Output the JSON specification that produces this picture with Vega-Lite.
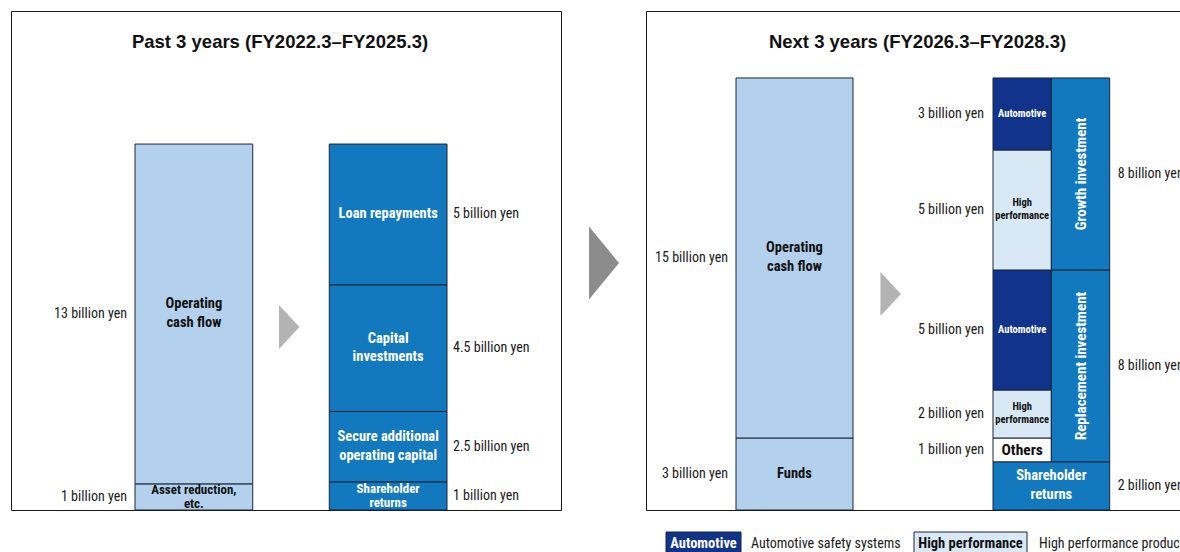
{
  "$schema": "https://vega.github.io/schema/vega-lite/v6.json",
  "padding": {"left": 10, "top": 10, "right": 0, "bottom": 0},
  "bounds": "flush",
  "spacing": 85,
  "datasets": {
    "pastSources": [
      {"side": "Sources", "item": "Asset reduction, etc.", "label": "Asset reduction,\netc.", "amount": 1, "valueLabel": "1 billion yen", "order": 1},
      {"side": "Sources", "item": "Operating cash flow", "label": "Operating\ncash flow", "amount": 13, "valueLabel": "13 billion yen", "order": 2}
    ],
    "pastUses": [
      {"side": "Uses", "item": "Shareholder returns", "label": "Shareholder\nreturns", "amount": 1, "valueLabel": "1 billion yen", "order": 1},
      {"side": "Uses", "item": "Secure additional operating capital", "label": "Secure additional\noperating capital", "amount": 2.5, "valueLabel": "2.5 billion yen", "order": 2},
      {"side": "Uses", "item": "Capital investments", "label": "Capital\ninvestments", "amount": 4.5, "valueLabel": "4.5 billion yen", "order": 3},
      {"side": "Uses", "item": "Loan repayments", "label": "Loan repayments", "amount": 5, "valueLabel": "5 billion yen", "order": 4}
    ],
    "nextSources": [
      {"side": "Sources", "item": "Funds", "label": "Funds", "amount": 3, "valueLabel": "3 billion yen", "order": 1},
      {"side": "Sources", "item": "Operating cash flow", "label": "Operating\ncash flow", "amount": 15, "valueLabel": "15 billion yen", "order": 2}
    ],
    "nextUses": [
      {"item": "Shareholder returns", "label": "Shareholder\nreturns", "amount": 2, "valueLabel": "2 billion yen", "cols": ["Business", "Type"], "order": 1},
      {"item": "Others", "label": "Others", "amount": 1, "valueLabel": "1 billion yen", "cols": ["Business"], "order": 2},
      {"item": "High performance", "label": "High\nperformance", "amount": 2, "valueLabel": "2 billion yen", "cols": ["Business"], "order": 3},
      {"item": "Automotive", "label": "Automotive", "amount": 5, "valueLabel": "5 billion yen", "cols": ["Business"], "order": 4},
      {"item": "High performance", "label": "High\nperformance", "amount": 5, "valueLabel": "5 billion yen", "cols": ["Business"], "order": 5},
      {"item": "Automotive", "label": "Automotive", "amount": 3, "valueLabel": "3 billion yen", "cols": ["Business"], "order": 6},
      {"item": "Replacement investment", "label": "Replacement investment", "amount": 8, "valueLabel": "8 billion yen", "cols": ["Type"], "order": 2},
      {"item": "Growth investment", "label": "Growth investment", "amount": 8, "valueLabel": "8 billion yen", "cols": ["Type"], "order": 3}
    ],
    "legendKeys": [
      {"key": "Automotive", "desc": "Automotive safety systems"},
      {"key": "High performance", "desc": "High performance products"}
    ]
  },
  "hconcat": [
    {
      "width": 550,
      "height": 499,
      "title": {"text": "Past 3 years (FY2022.3–FY2025.3)", "offset": -49, "baseline": "middle", "dx": -6},
      "layer": [
        {
          "data": {"name": "pastSources"},
          "layer": [
            {
              "mark": {"type": "bar", "fill": "#b3d1ec", "stroke": "#1b2638", "strokeWidth": 1},
              "encoding": {
                "x": {"field": "side", "type": "nominal", "scale": {"domain": ["Sources", "Uses"], "range": [124, 436], "paddingInner": 0.394, "paddingOuter": 0}, "axis": null},
                "y": {"field": "amount", "type": "quantitative", "stack": "zero", "scale": {"domain": [0, 19.09], "nice": false}, "axis": null},
                "order": {"field": "order"},
                "detail": {"field": "item"}
              }
            },
            {
              "mark": {"type": "text", "font": "Roboto Condensed, Liberation Sans Narrow, DejaVu Sans Condensed, sans-serif", "fontWeight": "bold", "fontSize": 14.5, "lineHeight": 19, "dy": -9.5, "fill": "#111111"},
              "encoding": {
                "x": {"field": "side", "type": "nominal"},
                "y": {"field": "amount", "type": "quantitative", "stack": "zero", "bandPosition": 0.5},
                "order": {"field": "order"},
                "detail": {"field": "item"},
                "text": {"condition": {"test": "datum.item === 'Operating cash flow'", "field": "label"}, "value": ""}
              }
            },
            {
              "mark": {"type": "text", "font": "Roboto Condensed, Liberation Sans Narrow, DejaVu Sans Condensed, sans-serif", "fontWeight": "bold", "fontSize": 13, "lineHeight": 14, "dy": -7, "fill": "#111111"},
              "encoding": {
                "x": {"field": "side", "type": "nominal"},
                "y": {"field": "amount", "type": "quantitative", "stack": "zero", "bandPosition": 0.5},
                "order": {"field": "order"},
                "detail": {"field": "item"},
                "text": {"condition": {"test": "datum.item !== 'Operating cash flow'", "field": "label"}, "value": ""}
              }
            },
            {
              "mark": {"type": "text", "font": "Roboto Condensed, Liberation Sans Narrow, DejaVu Sans Condensed, sans-serif", "fontSize": 14, "align": "right", "dx": -8, "fill": "#1a1a1a"},
              "encoding": {
                "x": {"field": "side", "type": "nominal", "bandPosition": 0},
                "y": {"field": "amount", "type": "quantitative", "stack": "zero", "bandPosition": 0.5},
                "order": {"field": "order"},
                "detail": {"field": "item"},
                "text": {"field": "valueLabel"}
              }
            },
            {
              "data": {"values": [{"arrow": "sources to uses"}]},
              "mark": {"type": "point", "shape": "M-0.466,-1L0.466,0L-0.466,1Z", "size": 1936, "filled": true, "color": "#b3b3b3", "opacity": 1, "strokeWidth": 0, "xOffset": 36.5},
              "encoding": {
                "x": {"datum": "Sources", "type": "nominal", "bandPosition": 1},
                "y": {"datum": 7, "type": "quantitative"}
              }
            },
            {
              "data": {"values": [{"arrow": "past to next"}]},
              "mark": {"type": "point", "shape": "M-0.411,-1L0.411,0L-0.411,1Z", "size": 5329, "filled": true, "color": "#8b8c8b", "opacity": 1, "strokeWidth": 0, "xOffset": 157},
              "encoding": {
                "x": {"datum": "Uses", "type": "nominal", "bandPosition": 1},
                "y": {"datum": 9.45, "type": "quantitative"}
              }
            }
          ]
        },
        {
          "data": {"name": "pastUses"},
          "layer": [
            {
              "mark": {"type": "bar", "fill": "#1379be", "stroke": "#1b2638", "strokeWidth": 1},
              "encoding": {
                "x": {"field": "side", "type": "nominal"},
                "y": {"field": "amount", "type": "quantitative", "stack": "zero", "scale": {"domain": [0, 17.726], "nice": false}, "axis": null},
                "order": {"field": "order"},
                "detail": {"field": "item"}
              }
            },
            {
              "mark": {"type": "text", "font": "Roboto Condensed, Liberation Sans Narrow, DejaVu Sans Condensed, sans-serif", "fontWeight": "bold", "fontSize": 14.5, "fill": "#ffffff"},
              "encoding": {
                "x": {"field": "side", "type": "nominal"},
                "y": {"field": "amount", "type": "quantitative", "stack": "zero", "bandPosition": 0.5},
                "order": {"field": "order"},
                "detail": {"field": "item"},
                "text": {"condition": {"test": "datum.item === 'Loan repayments'", "field": "label"}, "value": ""}
              }
            },
            {
              "mark": {"type": "text", "font": "Roboto Condensed, Liberation Sans Narrow, DejaVu Sans Condensed, sans-serif", "fontWeight": "bold", "fontSize": 14.5, "lineHeight": 18.5, "dy": -9.25, "fill": "#ffffff"},
              "encoding": {
                "x": {"field": "side", "type": "nominal"},
                "y": {"field": "amount", "type": "quantitative", "stack": "zero", "bandPosition": 0.5},
                "order": {"field": "order"},
                "detail": {"field": "item"},
                "text": {"condition": {"test": "datum.item === 'Capital investments' || datum.item === 'Secure additional operating capital'", "field": "label"}, "value": ""}
              }
            },
            {
              "mark": {"type": "text", "font": "Roboto Condensed, Liberation Sans Narrow, DejaVu Sans Condensed, sans-serif", "fontWeight": "bold", "fontSize": 13, "lineHeight": 14, "dy": -7, "fill": "#ffffff"},
              "encoding": {
                "x": {"field": "side", "type": "nominal"},
                "y": {"field": "amount", "type": "quantitative", "stack": "zero", "bandPosition": 0.5},
                "order": {"field": "order"},
                "detail": {"field": "item"},
                "text": {"condition": {"test": "datum.item === 'Shareholder returns'", "field": "label"}, "value": ""}
              }
            },
            {
              "mark": {"type": "text", "font": "Roboto Condensed, Liberation Sans Narrow, DejaVu Sans Condensed, sans-serif", "fontSize": 14, "align": "left", "dx": 6, "fill": "#1a1a1a"},
              "encoding": {
                "x": {"field": "side", "type": "nominal", "bandPosition": 1},
                "y": {"field": "amount", "type": "quantitative", "stack": "zero", "bandPosition": 0.5},
                "order": {"field": "order"},
                "detail": {"field": "item"},
                "text": {"field": "valueLabel"}
              }
            }
          ]
        }
      ],
      "resolve": {"scale": {"y": "independent"}}
    },
    {
      "spacing": 22,
      "bounds": "flush",
      "vconcat": [
        {
          "width": 550,
          "height": 499,
          "title": {"text": "Next 3 years (FY2026.3–FY2028.3)", "offset": -49, "baseline": "middle", "dx": -3.5},
          "layer": [
            {
              "data": {"name": "nextSources"},
              "layer": [
                {
                  "mark": {"type": "bar", "fill": "#b3d1ec", "stroke": "#1b2638", "strokeWidth": 1},
                  "encoding": {
                    "x": {"field": "side", "type": "nominal", "scale": {"domain": ["Sources"], "range": [90, 207], "paddingInner": 0, "paddingOuter": 0}, "axis": null},
                    "y": {"field": "amount", "type": "quantitative", "stack": "zero", "scale": {"domain": [0, 20.79], "nice": false}, "axis": null},
                    "order": {"field": "order"},
                    "detail": {"field": "item"}
                  }
                },
                {
                  "mark": {"type": "text", "font": "Roboto Condensed, Liberation Sans Narrow, DejaVu Sans Condensed, sans-serif", "fontWeight": "bold", "fontSize": 14.5, "lineHeight": 19, "dy": -9.5, "fill": "#111111"},
                  "encoding": {
                    "x": {"field": "side", "type": "nominal"},
                    "y": {"field": "amount", "type": "quantitative", "stack": "zero", "bandPosition": 0.5},
                    "order": {"field": "order"},
                    "detail": {"field": "item"},
                    "text": {"condition": {"test": "datum.item === 'Operating cash flow'", "field": "label"}, "value": ""}
                  }
                },
                {
                  "mark": {"type": "text", "font": "Roboto Condensed, Liberation Sans Narrow, DejaVu Sans Condensed, sans-serif", "fontWeight": "bold", "fontSize": 14.5, "fill": "#111111"},
                  "encoding": {
                    "x": {"field": "side", "type": "nominal"},
                    "y": {"field": "amount", "type": "quantitative", "stack": "zero", "bandPosition": 0.5},
                    "order": {"field": "order"},
                    "detail": {"field": "item"},
                    "text": {"condition": {"test": "datum.item === 'Funds'", "field": "label"}, "value": ""}
                  }
                },
                {
                  "mark": {"type": "text", "font": "Roboto Condensed, Liberation Sans Narrow, DejaVu Sans Condensed, sans-serif", "fontSize": 14, "align": "right", "dx": -8, "fill": "#1a1a1a"},
                  "encoding": {
                    "x": {"field": "side", "type": "nominal", "bandPosition": 0},
                    "y": {"field": "amount", "type": "quantitative", "stack": "zero", "bandPosition": 0.5},
                    "order": {"field": "order"},
                    "detail": {"field": "item"},
                    "text": {"field": "valueLabel"}
                  }
                },
                {
                  "data": {"values": [{"arrow": "sources to uses"}]},
                  "mark": {"type": "point", "shape": "M-0.466,-1L0.466,0L-0.466,1Z", "size": 1936, "filled": true, "color": "#b3b3b3", "opacity": 1, "strokeWidth": 0, "xOffset": 37.7},
                  "encoding": {
                    "x": {"datum": "Sources", "type": "nominal", "bandPosition": 1},
                    "y": {"datum": 9, "type": "quantitative"}
                  }
                }
              ]
            },
            {
              "data": {"name": "nextUses"},
              "transform": [{"flatten": ["cols"], "as": ["column"]}],
              "layer": [
                {
                  "mark": {"type": "bar", "stroke": "#1b2638", "strokeWidth": 1},
                  "encoding": {
                    "x": {"field": "column", "type": "nominal", "scale": {"domain": ["Business", "Type"], "range": [347, 463.7], "paddingInner": 0, "paddingOuter": 0}, "axis": null},
                    "y": {"field": "amount", "type": "quantitative", "stack": "zero", "scale": {"domain": [0, 20.79], "nice": false}, "axis": null},
                    "order": {"field": "order"},
                    "detail": {"field": "item"},
                    "fill": {
                      "field": "item", "type": "nominal", "legend": null,
                      "scale": {
                        "domain": ["Automotive", "High performance", "Others", "Growth investment", "Replacement investment", "Shareholder returns"],
                        "range": ["#11338b", "#d8e8f5", "#ffffff", "#1379be", "#1379be", "#1379be"]
                      }
                    },
                    "opacity": {"condition": {"test": "datum.item === 'Shareholder returns'", "value": 0}, "value": 1}
                  }
                },
                {
                  "mark": {"type": "text", "font": "Roboto Condensed, Liberation Sans Narrow, DejaVu Sans Condensed, sans-serif", "fontWeight": "bold", "fontSize": 10.5, "fill": "#ffffff"},
                  "encoding": {
                    "x": {"field": "column", "type": "nominal"},
                    "y": {"field": "amount", "type": "quantitative", "stack": "zero", "bandPosition": 0.5},
                    "order": {"field": "order"},
                    "detail": {"field": "item"},
                    "text": {"condition": {"test": "datum.item === 'Automotive'", "field": "label"}, "value": ""}
                  }
                },
                {
                  "mark": {"type": "text", "font": "Roboto Condensed, Liberation Sans Narrow, DejaVu Sans Condensed, sans-serif", "fontWeight": "bold", "fontSize": 10.5, "lineHeight": 13, "dy": -6.5, "fill": "#111111"},
                  "encoding": {
                    "x": {"field": "column", "type": "nominal"},
                    "y": {"field": "amount", "type": "quantitative", "stack": "zero", "bandPosition": 0.5},
                    "order": {"field": "order"},
                    "detail": {"field": "item"},
                    "text": {"condition": {"test": "datum.item === 'High performance'", "field": "label"}, "value": ""}
                  }
                },
                {
                  "mark": {"type": "text", "font": "Roboto Condensed, Liberation Sans Narrow, DejaVu Sans Condensed, sans-serif", "fontWeight": "bold", "fontSize": 15.5, "fill": "#111111"},
                  "encoding": {
                    "x": {"field": "column", "type": "nominal"},
                    "y": {"field": "amount", "type": "quantitative", "stack": "zero", "bandPosition": 0.5},
                    "order": {"field": "order"},
                    "detail": {"field": "item"},
                    "text": {"condition": {"test": "datum.item === 'Others'", "field": "label"}, "value": ""}
                  }
                },
                {
                  "mark": {"type": "text", "font": "Roboto Condensed, Liberation Sans Narrow, DejaVu Sans Condensed, sans-serif", "fontWeight": "bold", "fontSize": 15, "angle": 270, "fill": "#ffffff"},
                  "encoding": {
                    "x": {"field": "column", "type": "nominal"},
                    "y": {"field": "amount", "type": "quantitative", "stack": "zero", "bandPosition": 0.5},
                    "order": {"field": "order"},
                    "detail": {"field": "item"},
                    "text": {"condition": {"test": "datum.column === 'Type' && datum.item !== 'Shareholder returns'", "field": "label"}, "value": ""}
                  }
                },
                {
                  "mark": {"type": "text", "font": "Roboto Condensed, Liberation Sans Narrow, DejaVu Sans Condensed, sans-serif", "fontSize": 14, "align": "right", "dx": -9, "fill": "#1a1a1a"},
                  "encoding": {
                    "x": {"field": "column", "type": "nominal", "bandPosition": 0},
                    "y": {"field": "amount", "type": "quantitative", "stack": "zero", "bandPosition": 0.5},
                    "order": {"field": "order"},
                    "detail": {"field": "item"},
                    "text": {"condition": {"test": "datum.column === 'Business' && datum.item !== 'Shareholder returns'", "field": "valueLabel"}, "value": ""}
                  }
                },
                {
                  "mark": {"type": "text", "font": "Roboto Condensed, Liberation Sans Narrow, DejaVu Sans Condensed, sans-serif", "fontSize": 14, "align": "left", "dx": 8, "fill": "#1a1a1a"},
                  "encoding": {
                    "x": {"field": "column", "type": "nominal", "bandPosition": 1},
                    "y": {"field": "amount", "type": "quantitative", "stack": "zero", "bandPosition": 0.5},
                    "order": {"field": "order"},
                    "detail": {"field": "item"},
                    "text": {"condition": {"test": "datum.column === 'Type' && datum.item !== 'Shareholder returns'", "field": "valueLabel"}, "value": ""}
                  }
                }
              ]
            },
            {
              "data": {"name": "nextUses"},
              "transform": [{"filter": "datum.item === 'Shareholder returns'"}],
              "layer": [
                {
                  "mark": {"type": "bar", "fill": "#1379be", "stroke": "#1b2638", "strokeWidth": 1},
                  "encoding": {
                    "x": {"datum": "Both", "type": "nominal", "scale": {"domain": ["Both"], "range": [347, 463.7], "paddingInner": 0, "paddingOuter": 0}, "axis": null},
                    "y": {"field": "amount", "type": "quantitative", "stack": "zero", "scale": {"domain": [0, 20.79], "nice": false}, "axis": null}
                  }
                },
                {
                  "mark": {"type": "text", "font": "Roboto Condensed, Liberation Sans Narrow, DejaVu Sans Condensed, sans-serif", "fontWeight": "bold", "fontSize": 14.5, "lineHeight": 19, "dy": -9.5, "fill": "#ffffff"},
                  "encoding": {
                    "x": {"datum": "Both", "type": "nominal"},
                    "y": {"field": "amount", "type": "quantitative", "stack": "zero", "bandPosition": 0.5},
                    "text": {"field": "label"}
                  }
                },
                {
                  "mark": {"type": "text", "font": "Roboto Condensed, Liberation Sans Narrow, DejaVu Sans Condensed, sans-serif", "fontSize": 14, "align": "left", "dx": 8, "fill": "#1a1a1a"},
                  "encoding": {
                    "x": {"datum": "Both", "type": "nominal", "bandPosition": 1},
                    "y": {"field": "amount", "type": "quantitative", "stack": "zero", "bandPosition": 0.5},
                    "text": {"field": "valueLabel"}
                  }
                }
              ]
            }
          ],
          "resolve": {"scale": {"x": "independent"}}
        },
        {
          "width": 550,
          "height": 24,
          "view": {"stroke": null},
          "data": {"name": "legendKeys"},
          "encoding": {
            "x": {"field": "key", "type": "nominal", "scale": {"type": "point", "domain": ["Automotive", "High performance"], "range": [57.5, 324.5], "padding": 0}, "axis": null}
          },
          "layer": [
            {
              "transform": [{"filter": "datum.key === 'Automotive'"}],
              "mark": {"type": "rect", "width": 75, "fill": "#11338b", "stroke": "#1b2638", "strokeWidth": 1}
            },
            {
              "transform": [{"filter": "datum.key === 'High performance'"}],
              "mark": {"type": "rect", "width": 113, "fill": "#d8e8f5", "stroke": "#1b2638", "strokeWidth": 1}
            },
            {
              "mark": {"type": "text", "font": "Roboto Condensed, Liberation Sans Narrow, DejaVu Sans Condensed, sans-serif", "fontWeight": "bold", "fontSize": 14.5},
              "encoding": {
                "text": {"field": "key"},
                "color": {"condition": {"test": "datum.key === 'Automotive'", "value": "#ffffff"}, "value": "#111111"}
              }
            },
            {
              "transform": [{"filter": "datum.key === 'Automotive'"}],
              "mark": {"type": "text", "font": "Roboto Condensed, Liberation Sans Narrow, DejaVu Sans Condensed, sans-serif", "fontSize": 14, "align": "left", "xOffset": 47.5, "fill": "#1a1a1a"},
              "encoding": {"text": {"field": "desc"}}
            },
            {
              "transform": [{"filter": "datum.key === 'High performance'"}],
              "mark": {"type": "text", "font": "Roboto Condensed, Liberation Sans Narrow, DejaVu Sans Condensed, sans-serif", "fontSize": 14, "align": "left", "xOffset": 68.5, "fill": "#1a1a1a"},
              "encoding": {"text": {"field": "desc"}}
            }
          ]
        }
      ]
    }
  ],
  "config": {
    "view": {"stroke": "#1a1a1a", "strokeWidth": 1},
    "text": {"lineBreak": "\n"},
    "title": {"font": "Liberation Sans, Arial, sans-serif", "fontSize": 18.5, "fontWeight": "bold", "color": "#111111", "anchor": "middle"}
  }
}
